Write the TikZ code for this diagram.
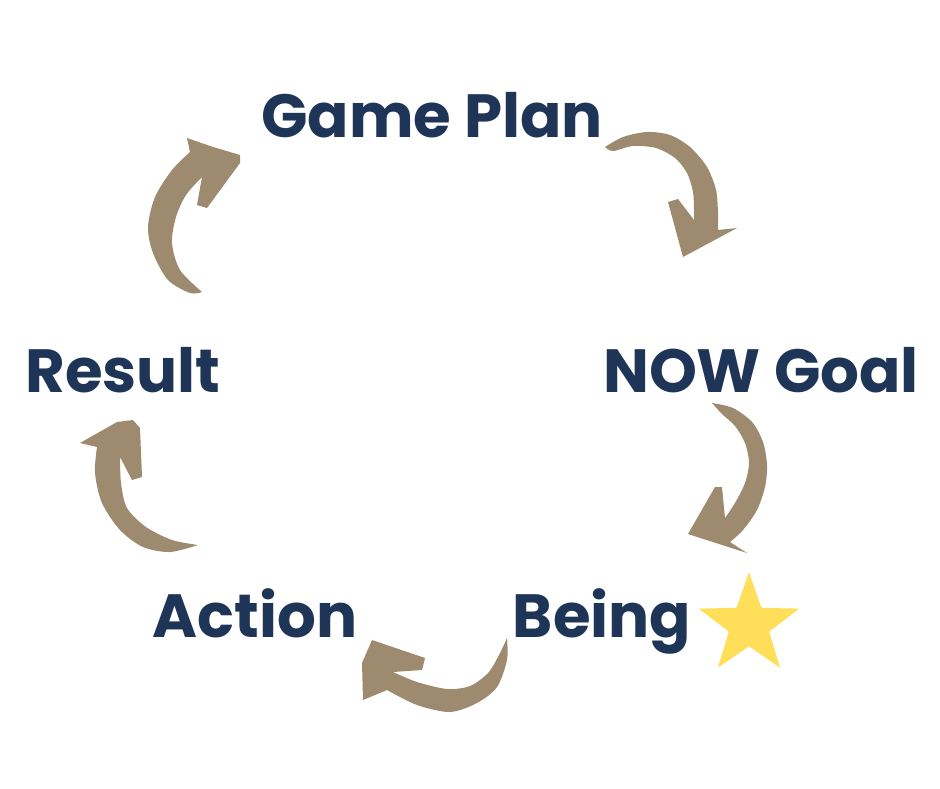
\documentclass[tikz,border=0pt]{standalone}
\usepackage{fontspec}
\newfontfamily\stagefont{Poppins}
\usetikzlibrary{shapes.geometric}
\definecolor{navy}{HTML}{1F3557}
\definecolor{brushtan}{HTML}{9E8A6E}
\definecolor{staryellow}{HTML}{FFDE59}
\tikzset{
  stage/.style={text=navy, inner sep=0pt, anchor=base,
    font=\stagefont\bfseries\fontsize{61}{61}\selectfont},
  brush/.style={fill=brushtan},
}
\begin{document}
\begin{tikzpicture}[x=1pt, y=-1pt]
    \useasboundingbox (0,0) rectangle (940,788);

    % Stufen
    \node[stage] (plan) at (432,137) {Game Plan};
    \node[stage] (goal) at (761,392) {NOW Goal};
    \node[stage] (result) at (123,392) {Result};
    \node[stage] (action) at (255,637) {Action};
    \node[stage] (being) at (602,637) {Being};
    \node[star, star points=5, star point ratio=2.5, minimum size=106pt,
          inner sep=0pt, fill=staryellow, rounded corners=1pt] (star) at (749,625) {};

    % Pinselpfeile
    \fill[brush] (605,147) -- plot[smooth] coordinates {(605,147) (623,137) (647,132) (670,135) (690,147) (707,167) (716,190) (718,213) (718,230)}
        -- (737,228) -- (683,257) -- (668,202) -- (678,199) -- (694,220)
        -- plot[smooth] coordinates {(694,220) (694,210) (693,192) (687,173) (675,158) (656,148) (633,146) (613,151) (605,147)} -- cycle;

    \fill[brush] (712,403) -- plot[smooth] coordinates {(712,403) (733,408) (752,422) (763,442) (767,465) (765,487) (757,510) (743,530) (730,542)}
        -- (747,553) -- (688,534) -- (715,487) -- (722,487) -- (725,518)
        -- plot[smooth] coordinates {(725,518) (735,503) (745,483) (749,463) (745,443) (735,426) (722,414) (712,403)} -- cycle;

    \fill[brush] (507,638) -- plot[smooth] coordinates {(507,638) (507,660) (497,687) (477,703) (450,712) (417,705) (387,690)}
        -- (363,700) -- (362,663) -- (372,640) -- (425,658) -- (422,670) -- (393,672)
        -- plot[smooth] coordinates {(393,672) (417,682) (447,689) (470,686) (488,673) (499,655) (507,638)} -- cycle;

    \fill[brush] (198,545) -- plot[smooth] coordinates {(198,545) (170,552) (143,547) (120,530) (102,503) (95,473) (97,447)}
        -- (80,443) -- (117,422) -- (133,420) -- (140,428) -- (142,477) -- (132,480) -- (120,457)
        -- plot[smooth] coordinates {(120,457) (121,483) (127,508) (146,527) (172,540) (198,545)} -- cycle;

    \fill[brush] (202,292) -- plot[smooth] coordinates {(202,292) (190,293) (168,280) (153,253) (148,227) (155,197) (172,170) (190,152)}
        -- (187,138) -- (213,147) -- (240,155) -- (240,163) -- (207,208) -- (197,205) -- (202,177)
        -- plot[smooth] coordinates {(202,177) (186,195) (176,217) (172,243) (180,270) (202,292)} -- cycle;
\end{tikzpicture}
\end{document}
